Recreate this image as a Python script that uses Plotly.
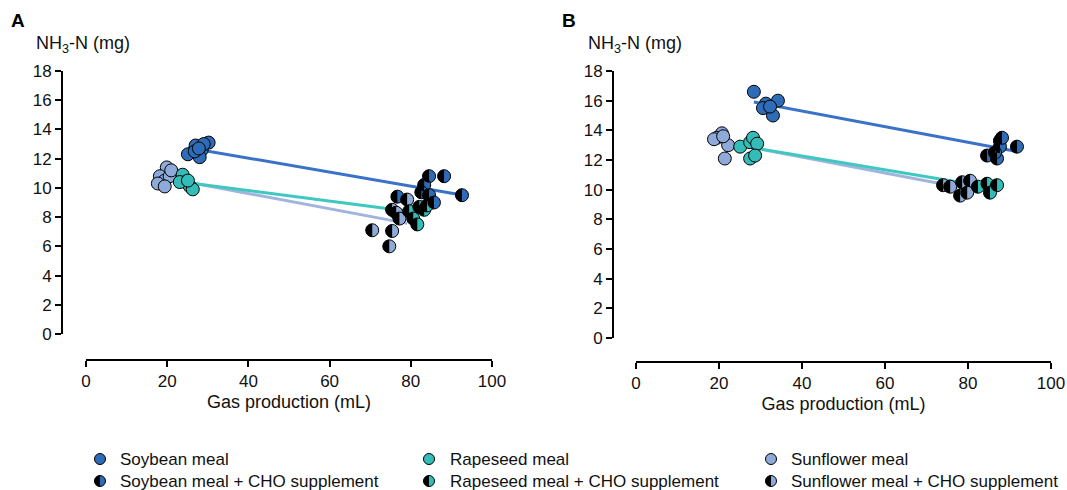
import numpy as np
import plotly.graph_objects as go

W, H = 1067, 490

# ---- data (gas production mL, NH3-N mg) ----
# Panel A
soy_a_x = [25.1, 27.0, 28.5, 30.2, 28.0, 26.8, 29.0, 27.8]
soy_a_y = [12.3, 12.9, 12.6, 13.1, 12.1, 12.5, 13.0, 12.7]
soy_cho_a_x = [84.5, 88.2, 83.3, 82.6, 84.5, 92.6, 76.7, 85.7]
soy_cho_a_y = [10.8, 10.8, 10.2, 9.7, 9.5, 9.5, 9.4, 9.0]
rape_a_x = [23.8, 24.6, 25.6, 26.3, 23.1, 25.1]
rape_a_y = [10.9, 10.4, 10.1, 9.9, 10.4, 10.5]
rape_cho_a_x = [79.6, 80.6, 81.6, 82.1, 83.3, 84.0]
rape_cho_a_y = [8.4, 7.9, 7.5, 8.7, 8.5, 8.8]
sun_a_x = [19.9, 18.2, 19.4, 17.7, 20.6, 19.4, 21.0]
sun_a_y = [11.4, 10.8, 10.5, 10.3, 10.8, 10.1, 11.2]
sun_cho_a_x = [70.5, 75.4, 74.7, 75.4, 76.4, 79.1, 77.2]
sun_cho_a_y = [7.1, 7.05, 6.0, 8.5, 8.3, 9.2, 7.9]

# Panel B
soy_b_x = [28.4, 31.3, 34.2, 30.6, 33.0, 32.3]
soy_b_y = [16.6, 15.8, 16.0, 15.5, 15.0, 15.6]
soy_cho_b_x = [87.7, 87.7, 91.8, 84.6, 87.0, 86.5, 88.2]
soy_cho_b_y = [13.3, 12.9, 12.9, 12.3, 12.1, 12.5, 13.5]
rape_b_x = [25.1, 27.5, 28.2, 29.2, 27.5, 28.7]
rape_b_y = [12.9, 13.2, 13.5, 13.1, 12.1, 12.3]
rape_cho_b_x = [84.6, 87.0, 82.4, 85.3]
rape_cho_b_y = [10.4, 10.3, 10.2, 9.8]
sun_b_x = [20.7, 19.5, 22.2, 21.4, 18.8, 21.0]
sun_b_y = [13.8, 13.5, 13.0, 12.1, 13.4, 13.6]
sun_cho_b_x = [74.0, 75.7, 78.6, 80.5, 78.1, 79.8]
sun_cho_b_y = [10.3, 10.2, 10.5, 10.6, 9.6, 9.8]

x_ticks = [0, 20, 40, 60, 80, 100]
y_ticks = [0, 2, 4, 6, 8, 10, 12, 14, 16, 18]

legend_labels = ["Soybean meal", "Soybean meal + CHO supplement",
                 "Rapeseed meal", "Rapeseed meal + CHO supplement",
                 "Sunflower meal", "Sunflower meal + CHO supplement"]

# ---- styling ----
C_SOY, C_RAPE, C_SUN = "#2f6cb8", "#34bdb8", "#8eaad8"
L_SOY, L_RAPE, L_SUN = "#3a72c8", "#3ec8c0", "#a0b4de"
FONT = "Liberation Sans, Arial, sans-serif"
TXT = "#111"
MS = 13          # marker diameter (px)
R = MS / 2.0


def fx(px):
    return px / W


def fy(py):
    return 1 - py / H


def half_path(r):
    k = 0.5523 * r
    return (f"M 0,{-r} C {-k},{-r} {-r},{-k} {-r},0 "
            f"C {-r},{k} {-k},{r} 0,{r} Z")


fig = go.Figure()
shapes = []

panels = [
    ("x", "y", [(soy_a_x, soy_a_y, soy_cho_a_x, soy_cho_a_y, C_SOY, L_SOY),
                (sun_a_x, sun_a_y, sun_cho_a_x, sun_cho_a_y, C_SUN, L_SUN),
                (rape_a_x, rape_a_y, rape_cho_a_x, rape_cho_a_y, C_RAPE, L_RAPE)]),
    ("x2", "y2", [(soy_b_x, soy_b_y, soy_cho_b_x, soy_cho_b_y, C_SOY, L_SOY),
                  (sun_b_x, sun_b_y, sun_cho_b_x, sun_cho_b_y, C_SUN, L_SUN),
                  (rape_b_x, rape_b_y, rape_cho_b_x, rape_cho_b_y, C_RAPE, L_RAPE)]),
]

for xr, yr, groups in panels:
    # regression lines first (beneath the points)
    for gx, gy, cx, cy, col, lcol in groups:
        allx = np.array(gx + cx)
        ally = np.array(gy + cy)
        b, a = np.polyfit(allx, ally, 1)
        xs = np.array([allx.min(), allx.max()])
        fig.add_trace(go.Scatter(x=xs, y=a + b * xs, mode="lines",
                                 line=dict(color=lcol, width=3),
                                 xaxis=xr, yaxis=yr, showlegend=False,
                                 hoverinfo="skip", cliponaxis=False))
    for gx, gy, cx, cy, col, lcol in groups:
        mk = dict(color=col, size=MS, line=dict(color="black", width=1))
        fig.add_trace(go.Scatter(x=gx, y=gy, mode="markers", marker=mk,
                                 xaxis=xr, yaxis=yr, showlegend=False,
                                 cliponaxis=False))
        fig.add_trace(go.Scatter(x=cx, y=cy, mode="markers", marker=mk,
                                 xaxis=xr, yaxis=yr, showlegend=False,
                                 cliponaxis=False))
        # black left half on supplemented points
        for px_, py_ in zip(cx, cy):
            shapes.append(dict(type="path", xref=xr, yref=yr,
                               xsizemode="pixel", ysizemode="pixel",
                               xanchor=px_, yanchor=py_, path=half_path(R),
                               fillcolor="black", line=dict(width=0),
                               layer="above"))

# ---- legend drawn by hand ----
leg_cols = [(100, 120, C_SOY), (429, 450, C_RAPE), (771, 791, C_SUN)]
leg_rows = [459, 481]
annotations = []
LR = 5.5
for ci, (mx, tx, col) in enumerate(leg_cols):
    for ri, ry in enumerate(leg_rows):
        shapes.append(dict(type="circle", xref="paper", yref="paper",
                           xsizemode="pixel", ysizemode="pixel",
                           xanchor=fx(mx), yanchor=fy(ry),
                           x0=-LR, x1=LR, y0=-LR, y1=LR,
                           fillcolor=col, line=dict(color="black", width=1)))
        if ri == 1:
            shapes.append(dict(type="path", xref="paper", yref="paper",
                               xsizemode="pixel", ysizemode="pixel",
                               xanchor=fx(mx), yanchor=fy(ry),
                               path=half_path(LR), fillcolor="black",
                               line=dict(width=0)))
        annotations.append(dict(text=legend_labels[ci * 2 + ri], x=fx(tx),
                                y=fy(ry), xref="paper", yref="paper",
                                xanchor="left", yanchor="middle",
                                showarrow=False, borderpad=0, borderwidth=0,
                                font=dict(size=17, color=TXT, family=FONT)))

# panel letters and y titles
for letter, lx, tx in [("A", 9, 34), ("B", 560, 586)]:
    annotations.append(dict(text=f"<b>{letter}</b>", x=fx(lx), y=fy(20),
                            xref="paper", yref="paper", xanchor="left",
                            yanchor="middle", showarrow=False,
                            font=dict(size=19, color="black", family=FONT)))
    annotations.append(dict(text="NH<sub>3</sub>-N (mg)", x=fx(tx), y=fy(45),
                            xref="paper", yref="paper", xanchor="left",
                            yanchor="middle", showarrow=False,
                            font=dict(size=18, color=TXT, family=FONT)))

axis_common = dict(showgrid=False, zeroline=False, showline=True,
                   linecolor="black", linewidth=2, ticks="outside",
                   ticklen=6, tickwidth=2, tickcolor="black",
                   tickfont=dict(size=17, color=TXT, family=FONT),
                   anchor="free", automargin=False)

xtitle = dict(text="Gas production (mL)", standoff=4,
              font=dict(size=18, color=TXT, family=FONT))

fig.update_layout(
    width=W, height=H, margin=dict(l=0, r=0, t=0, b=0, autoexpand=False),
    paper_bgcolor="white", plot_bgcolor="white",
    font=dict(family=FONT),
    xaxis=dict(**axis_common, domain=[fx(86), fx(492)], range=[0, 100],
               tickvals=x_ticks, position=fy(360), title=xtitle),
    yaxis=dict(**axis_common, domain=[fy(334), fy(71)], range=[0, 18],
               tickvals=y_ticks, position=fx(62)),
    xaxis2=dict(**axis_common, domain=[fx(636), fx(1051)], range=[0, 100],
                tickvals=x_ticks, position=fy(362), title=xtitle),
    yaxis2=dict(**axis_common, domain=[fy(338), fy(71)], range=[0, 18],
                tickvals=y_ticks, position=fx(613)),
    shapes=shapes, annotations=annotations, showlegend=False,
)

fig.write_html("out.html")
